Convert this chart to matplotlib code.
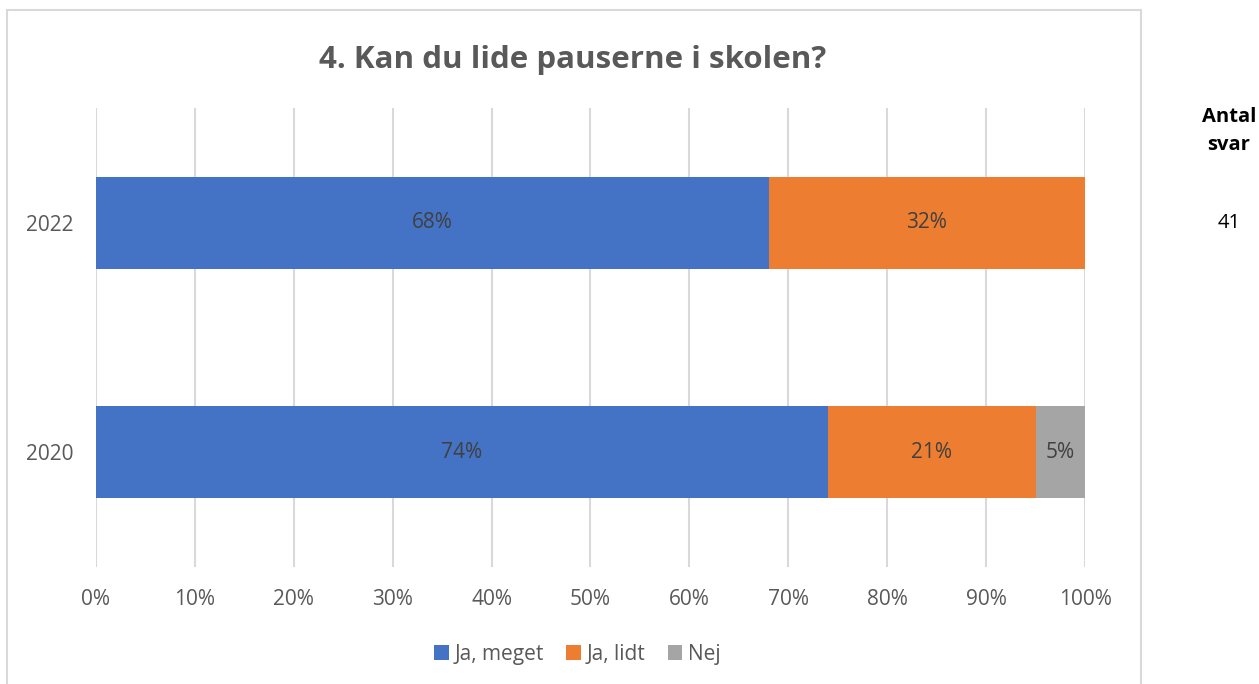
import matplotlib.pyplot as plt
import matplotlib.patches as mpatches
import numpy as np

# data
years = ['2020', '2022']
ja_meget = [74, 68]
ja_lidt = [21, 32]
nej = [5, 0]
series_names = ['Ja, meget', 'Ja, lidt', 'Nej']
colors = ['#4472C4', '#ED7D31', '#A5A5A5']
antal_svar = ['', '41']

plt.rcParams['font.family'] = ['Open Sans', 'DejaVu Sans']

fig = plt.figure(figsize=(12.59, 6.84), dpi=100)
ax = fig.add_axes([0.0762, 0.1711, 0.7856, 0.6711])

# chart border like excel
fig.patches.append(mpatches.Rectangle((0.0056, -0.02), 0.9007, 1.0054,
                                      transform=fig.transFigure, fill=False,
                                      edgecolor='#d9d9d9', linewidth=1.5))

y = np.arange(len(years))
left = np.zeros(len(years))
for vals, name, col in zip([ja_meget, ja_lidt, nej], series_names, colors):
    vals = np.array(vals)
    bars = ax.barh(y, vals, left=left, height=0.4, color=col, label=name, zorder=3)
    for b, v in zip(bars, vals):
        if v > 0:
            ax.text(b.get_x() + b.get_width() / 2, b.get_y() + b.get_height() / 2,
                    '%d%%' % v, ha='center', va='center', fontsize=15,
                    color='#404040', zorder=4)
    left += vals

ax.set_xlim(0, 100)
ax.set_ylim(-0.5, 1.5)
ax.set_xticks(np.arange(0, 101, 10))
ax.set_xticklabels(['%d%%' % t for t in range(0, 101, 10)])
ax.set_yticks(y)
ax.set_yticklabels(years)
ax.tick_params(axis='both', length=0, labelsize=15, labelcolor='#595959')
ax.tick_params(axis='x', pad=16)
ax.tick_params(axis='y', pad=16.5)
ax.xaxis.grid(True, color='#d9d9d9', linewidth=1.5, zorder=0)
for s in ax.spines.values():
    s.set_visible(False)

fig.text(0.455, 0.912, '4. Kan du lide pauserne i skolen?', ha='center', va='center',
         fontsize=22.5, fontweight='bold', color='#595959')

ax.legend(loc='center', bbox_to_anchor=(0.487, -0.19), ncol=3, frameon=False,
          fontsize=15, handlelength=0.7, handleheight=0.7, handletextpad=0.3,
          columnspacing=1.05, labelcolor='#595959')

fig.text(0.976, 0.808, 'Antal\nsvar', ha='center', va='center', fontsize=14.5,
         fontweight='bold', color='black', linespacing=1.55)
for yi, n in zip(y, antal_svar):
    if n:
        fig.text(0.976, ax.transData.transform((0, yi))[1] / fig.bbox.height, n,
                 ha='center', va='center', fontsize=14.5, color='black')

fig.savefig('out.png', dpi=100)
